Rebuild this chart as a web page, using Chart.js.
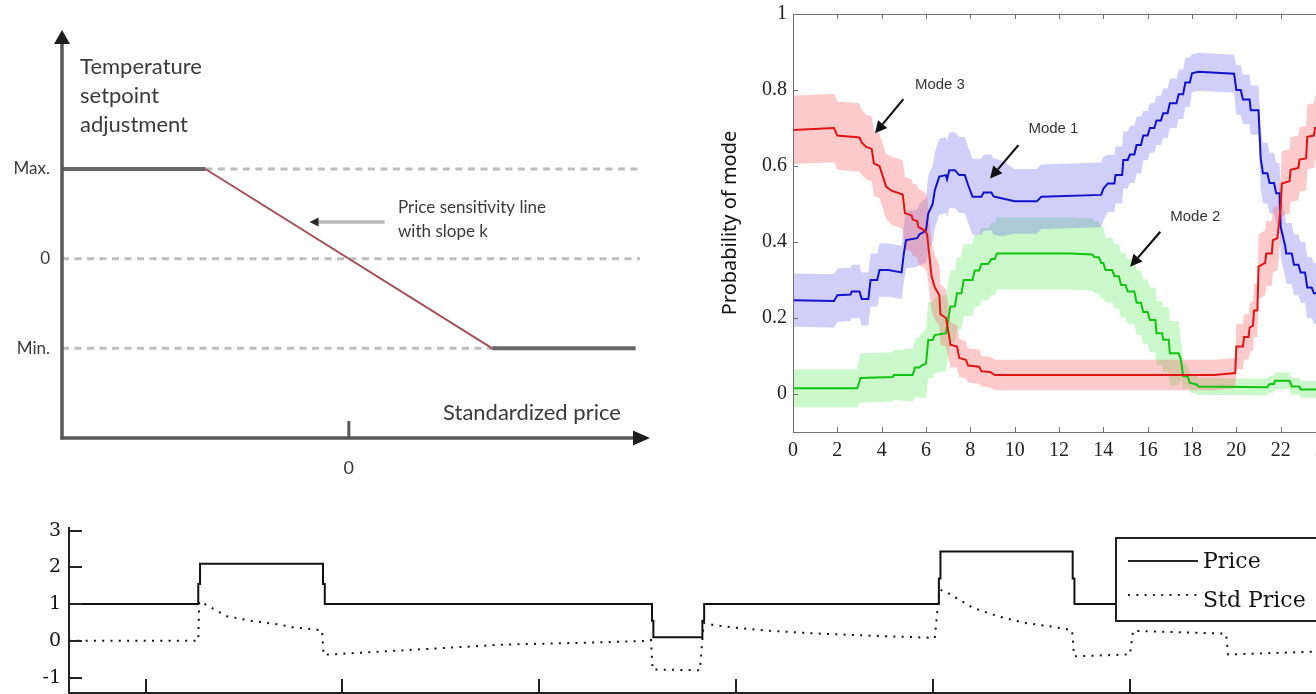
<!DOCTYPE html>
<html>
<head>
<meta charset="utf-8">
<script src="https://cdn.jsdelivr.net/npm/chart.js@4.4.1/dist/chart.umd.min.js"></script>
<style>
  html, body { margin: 0; padding: 0; background: #fff; overflow: hidden; }
  #page { position: relative; width: 1316px; height: 694px; overflow: hidden; background: #fff; }
  canvas { position: absolute; }
  #policy { left: 0; top: 0; }
  #modes { left: 700px; top: 0; }
  #prices { left: 0; top: 510px; }
</style>
</head>
<body>
<div id="page">
  <canvas id="policy" width="660" height="490"></canvas>
  <canvas id="modes" width="628" height="470"></canvas>
  <canvas id="prices" width="1405" height="224"></canvas>
</div>
<script>
// Top left: setpoint adjustment vs standardized price
const policyPrice = [-2, -1, 1, 2];
const policyAdjust = [1, 1, -1, -1];
const guideLevels = [1, 0, -1];
const guideFrom = [-1, -2, -2];
const guideTo = [2.03, 2.03, 1];
const policyTicks = [-1, 0, 1];
const policyTickText = ['Min.', '0', 'Max.'];

// Top right: probability of each mode over the day (hours), with spread
const hours3 = [0, 1.85, 2.0, 3.0, 3.1, 3.3, 3.55, 3.65, 3.9, 4.2, 4.45, 4.95, 5.05, 5.35, 5.4, 5.6, 5.65, 5.95, 6.05, 6.25, 6.4, 6.6, 6.65, 6.9, 7.05, 7.1, 7.4, 7.5, 7.8, 7.9, 8.4, 8.5, 8.9, 9.1, 14.0, 19.0, 19.95, 20.0, 20.3, 20.35, 20.55, 20.6, 20.75, 20.8, 20.95, 21.0, 21.3, 21.35, 21.6, 21.65, 21.85, 22.0, 22.05, 22.4, 22.45, 22.8, 22.85, 23.15, 23.2, 23.5, 23.55, 24];
const prob3 = [0.695, 0.70, 0.68, 0.675, 0.662, 0.65, 0.645, 0.607, 0.60, 0.546, 0.535, 0.525, 0.476, 0.47, 0.459, 0.455, 0.44, 0.43, 0.42, 0.31, 0.28, 0.26, 0.21, 0.2, 0.15, 0.13, 0.125, 0.095, 0.09, 0.075, 0.072, 0.06, 0.058, 0.05, 0.05, 0.05, 0.055, 0.125, 0.125, 0.15, 0.15, 0.175, 0.18, 0.22, 0.22, 0.335, 0.345, 0.37, 0.37, 0.405, 0.41, 0.49, 0.554, 0.56, 0.59, 0.595, 0.617, 0.62, 0.677, 0.68, 0.70, 0.70];
const spread3 = [0.09, 0.09, 0.09, 0.09,
  0.085, 0.085, 0.085, 0.085, 0.085, 0.085, 0.09, 0.09, 0.095, 0.095, 0.095, 0.095, 0.1, 0.1,
  0.1, 0.09, 0.085, 0.08, 0.08, 0.075,
  0.065, 0.06, 0.055, 0.05, 0.05, 0.045, 0.045, 0.04, 0.04,
  0.04, 0.04, 0.04, 0.04,
  0.06, 0.06, 0.06, 0.06, 0.065, 0.065, 0.07, 0.07,
  0.085, 0.085, 0.085, 0.085, 0.085, 0.085, 0.085, 0.085, 0.085, 0.085, 0.085, 0.085, 0.085, 0.085, 0.085, 0.085, 0.085];

const hours1 = [0, 1.85, 2.0, 2.6, 2.65, 3.0, 3.1, 3.4, 3.5, 3.8, 3.9, 4.3, 4.9, 5.0, 5.1, 5.6, 5.7, 6.0, 6.1, 6.3, 6.4, 6.6, 6.9, 6.95, 7.05, 7.3, 7.5, 7.75, 7.9, 8.1, 8.5, 8.6, 8.95, 9.05, 9.4, 10, 11, 11.2, 13.9, 14.0, 14.2, 14.5, 14.55, 14.85, 14.9, 15.1, 15.2, 15.4, 15.5, 15.7, 15.8, 16.0, 16.1, 16.3, 16.4, 16.6, 16.7, 16.9, 17.0, 17.3, 17.4, 17.6, 17.7, 17.9, 18.0, 18.3, 19.3, 19.9, 20.0, 20.2, 20.3, 20.6, 20.65, 21.0, 21.1, 21.2, 21.4, 21.5, 21.7, 21.8, 21.95, 22.0, 22.2, 22.25, 22.5, 22.6, 22.8, 22.9, 23.1, 23.2, 23.4, 23.5, 23.7, 23.75, 24];
const prob1 = [0.247, 0.245, 0.26, 0.262, 0.27, 0.27, 0.25, 0.25, 0.30, 0.30, 0.326, 0.326, 0.32, 0.37, 0.405, 0.41, 0.42, 0.43, 0.475, 0.50, 0.537, 0.572, 0.576, 0.565, 0.589, 0.589, 0.576, 0.576, 0.55, 0.519, 0.519, 0.53, 0.53, 0.52, 0.515, 0.507, 0.507, 0.519, 0.524, 0.54, 0.554, 0.554, 0.576, 0.576, 0.616, 0.616, 0.63, 0.63, 0.655, 0.655, 0.68, 0.68, 0.70, 0.70, 0.72, 0.72, 0.739, 0.739, 0.765, 0.765, 0.789, 0.789, 0.82, 0.82, 0.844, 0.848, 0.845, 0.843, 0.80, 0.80, 0.775, 0.775, 0.747, 0.747, 0.62, 0.581, 0.581, 0.555, 0.555, 0.528, 0.528, 0.44, 0.39, 0.37, 0.37, 0.34, 0.34, 0.32, 0.32, 0.28, 0.28, 0.265, 0.265, 0.247, 0.247];
const spread1 = [0.07, 0.07, 0.07, 0.07, 0.07, 0.07, 0.07, 0.07, 0.07, 0.07, 0.07, 0.07, 0.07,
  0.075, 0.075, 0.075, 0.08, 0.085,
  0.1, 0.1, 0.1, 0.1, 0.1, 0.1, 0.1, 0.1, 0.1, 0.1, 0.1, 0.1, 0.1, 0.1, 0.1, 0.1, 0.1,
  0.085, 0.085, 0.085, 0.085, 0.085,
  0.075, 0.075, 0.075, 0.075, 0.075, 0.075, 0.075, 0.075, 0.075, 0.075,
  0.065, 0.065, 0.065, 0.065, 0.065, 0.065, 0.065, 0.065, 0.065, 0.065, 0.065, 0.065, 0.065, 0.065,
  0.05, 0.05, 0.05, 0.05,
  0.065, 0.065, 0.065, 0.065, 0.065, 0.065,
  0.08, 0.08, 0.08, 0.08, 0.08, 0.08, 0.08, 0.08, 0.08, 0.08, 0.08, 0.08, 0.08, 0.08, 0.08, 0.08, 0.08, 0.08, 0.08, 0.08, 0.08];

const hours2 = [0, 2.9, 3.05, 4.5, 4.55, 5.4, 5.5, 5.7, 5.8, 6.0, 6.1, 6.3, 6.4, 6.9, 7.1, 7.3, 7.4, 7.6, 7.7, 8.1, 8.2, 8.4, 8.5, 8.8, 8.95, 9.1, 9.2, 12.5, 13.5, 13.6, 13.8, 13.9, 14.0, 14.1, 14.4, 14.5, 14.7, 14.8, 15.0, 15.1, 15.4, 15.5, 15.7, 15.8, 16.0, 16.1, 16.35, 16.4, 16.65, 16.7, 16.95, 17.0, 17.4, 17.5, 17.6, 17.8, 17.9, 18.2, 18.3, 21.4, 21.5, 21.7, 21.75, 22.4, 22.5, 22.85, 22.9, 24];
const prob2 = [0.015, 0.015, 0.042, 0.045, 0.05, 0.05, 0.07, 0.07, 0.075, 0.08, 0.142, 0.142, 0.155, 0.16, 0.23, 0.23, 0.265, 0.265, 0.30, 0.30, 0.325, 0.325, 0.342, 0.342, 0.355, 0.355, 0.37, 0.37, 0.367, 0.36, 0.36, 0.345, 0.345, 0.326, 0.326, 0.31, 0.31, 0.287, 0.287, 0.27, 0.27, 0.24, 0.24, 0.216, 0.216, 0.195, 0.195, 0.16, 0.16, 0.143, 0.143, 0.107, 0.107, 0.09, 0.047, 0.047, 0.03, 0.025, 0.02, 0.018, 0.026, 0.026, 0.035, 0.035, 0.02, 0.02, 0.012, 0.012];
const spread2 = [0.05, 0.05,
  0.065, 0.065, 0.065, 0.07, 0.075, 0.08, 0.085, 0.09,
  0.1, 0.1, 0.1, 0.1,
  0.095, 0.095, 0.095, 0.095, 0.095, 0.095, 0.095, 0.095, 0.095, 0.095, 0.095, 0.095, 0.095, 0.095, 0.095, 0.095, 0.095, 0.095, 0.095,
  0.085, 0.085, 0.085, 0.085, 0.085, 0.085, 0.085, 0.085, 0.085, 0.085, 0.085, 0.085, 0.085, 0.085, 0.085, 0.085, 0.085, 0.085, 0.085, 0.085,
  0.05, 0.035, 0.03, 0.025, 0.025,
  0.022, 0.022, 0.022, 0.022, 0.022, 0.022, 0.022, 0.022, 0.022, 0.022];
const probTicks = [0, 0.2, 0.4, 0.6, 0.8, 1];

// Bottom: price and standardized price
const priceT = [6.1, 12.67, 12.67, 12.76, 12.76, 19.01, 19.01, 19.1, 19.1, 35.73, 35.73, 35.8, 35.8, 38.29, 38.29, 38.38, 38.38, 50.31, 50.31, 50.39, 50.39, 57.11, 57.11, 57.2, 57.2, 74];
const priceV = [1, 1, 1.55, 1.55, 2.1, 2.1, 1.55, 1.55, 1, 1, 0.55, 0.55, 0.1, 0.1, 0.55, 0.55, 1, 1, 1.7, 1.7, 2.43, 2.43, 1.7, 1.7, 1, 1];
const stdT = [6.1, 12.67, 12.72, 12.86, 14.13, 15.43, 16.71, 17.57, 18.64, 18.96, 19.04, 23.99, 28.26, 32.53, 35.53, 35.68, 35.76, 38.16, 38.36, 38.85, 39.9, 41.6, 44.1, 46.4, 48.58, 50.1, 50.34, 50.74, 52.04, 53.32, 54.63, 55.91, 56.88, 57.08, 57.18, 60.02, 60.18, 64.75, 64.91, 65.01, 69.17, 74];
const stdV = [0, 0, 1.07, 1.04, 0.67, 0.54, 0.45, 0.36, 0.31, 0.28, -0.38, -0.23, -0.1, -0.05, 0, 0.02, -0.78, -0.8, 0.49, 0.43, 0.36, 0.28, 0.2, 0.15, 0.11, 0.08, 1.4, 1.31, 0.9, 0.67, 0.49, 0.4, 0.31, 0.29, -0.42, -0.37, 0.27, 0.2, 0.18, -0.37, -0.3, -0.26];
const priceTicks = [-1, 0, 1, 2, 3];
const timeTicks = [10, 20, 30, 40, 50, 60, 70];

const pts = (xs, ys) => xs.map((x, i) => ({ x, y: ys[i] }));

// fixed axis box sizes so the plot areas land where they do in the figure
function fixSize(w, h) {
  return s => {
    if (w !== null) s.width = w;
    if (h !== null) s.height = h;
    s.paddingLeft = s.paddingRight = s.paddingTop = s.paddingBottom = 0;
  };
}

function drawArrow(ctx, x0, y0, x1, y1, o) {
  const a = Math.atan2(y1 - y0, x1 - x0);
  const bx = x1 - o.head * Math.cos(a), by = y1 - o.head * Math.sin(a);
  ctx.strokeStyle = o.line; ctx.lineWidth = o.width;
  ctx.beginPath(); ctx.moveTo(x0, y0); ctx.lineTo(bx, by); ctx.stroke();
  ctx.fillStyle = o.tip;
  ctx.beginPath();
  ctx.moveTo(x1, y1);
  ctx.lineTo(bx + o.half * Math.sin(a), by - o.half * Math.cos(a));
  ctx.lineTo(bx - o.half * Math.sin(a), by + o.half * Math.cos(a));
  ctx.closePath(); ctx.fill();
}

// ---------- chart 1 ----------
const policyDecor = {
  id: 'policyDecor',
  afterDraw(chart) {
    const { ctx, chartArea: a, scales: { x, y } } = chart;
    ctx.save();
    const axis = { head: 14, half: 8, width: 3.5, line: '#585858', tip: '#1e1e1e' };
    drawArrow(ctx, a.left, a.bottom + 1.5, a.left, a.top, axis);
    drawArrow(ctx, a.left - 1.5, a.bottom, a.right, a.bottom, { ...axis, head: 17, half: 7.5 });
    const zx = x.getPixelForValue(0);
    ctx.strokeStyle = '#585858'; ctx.lineWidth = 3;
    ctx.beginPath(); ctx.moveTo(zx, a.bottom); ctx.lineTo(zx, a.bottom - 17); ctx.stroke();
    const ay = y.getPixelForValue(0.41);
    drawArrow(ctx, x.getPixelForValue(0.25), ay, x.getPixelForValue(-0.274), ay,
      { head: 9, half: 4.5, width: 3.5, line: '#b8b8b8', tip: '#2a2a2a' });

    ctx.fillStyle = '#3a3a3a'; ctx.textAlign = 'left'; ctx.textBaseline = 'middle';
    ctx.font = '22px Lato';
    ctx.fillText('Temperature', x.getPixelForValue(-1.874), y.getPixelForValue(2.14));
    ctx.fillText('setpoint', x.getPixelForValue(-1.874), y.getPixelForValue(1.813));
    ctx.fillText('adjustment', x.getPixelForValue(-1.874), y.getPixelForValue(1.49));
    ctx.fillText('Standardized price', x.getPixelForValue(0.657), y.getPixelForValue(-1.72));
    ctx.font = '17px Lato';
    ctx.fillText('Price sensitivity line', x.getPixelForValue(0.343), y.getPixelForValue(0.565));
    ctx.fillText('with slope k', x.getPixelForValue(0.343), y.getPixelForValue(0.298));
    ctx.restore();
  }
};

new Chart(document.getElementById('policy'), {
  type: 'line',
  data: {
    datasets: [
      {
        data: pts(policyPrice, policyAdjust),
        borderColor: '#666666', borderWidth: 4, order: 0,
        segment: {
          borderColor: c => c.p0DataIndex === 1 ? '#a4505b' : undefined,
          borderWidth: c => c.p0DataIndex === 1 ? 2 : undefined
        }
      },
      ...guideLevels.map((lv, i) => ({
        data: [{ x: guideFrom[i], y: lv }, { x: guideTo[i], y: lv }],
        borderColor: '#bdbdbd', borderWidth: 3, borderDash: [7, 5.5], order: 1
      }))
    ]
  },
  options: {
    responsive: false, animation: false,
    layout: { padding: { top: 30, right: 10, left: 0, bottom: 0 } },
    elements: { point: { radius: 0 }, line: { tension: 0 } },
    plugins: { legend: { display: false }, tooltip: { enabled: false } },
    scales: {
      x: {
        type: 'linear', min: -2, max: 2.1,
        border: { display: false }, grid: { display: false, drawTicks: false },
        afterBuildTicks: s => { s.ticks = [{ value: 0 }]; },
        afterFit: fixSize(null, 52),
        ticks: { padding: 19, color: '#3a3a3a', font: { family: 'Lato', size: 18 } }
      },
      y: {
        type: 'linear', min: -2, max: 2.55,
        border: { display: false }, grid: { display: false, drawTicks: false },
        afterBuildTicks: s => { s.ticks = policyTicks.map(v => ({ value: v })); },
        afterFit: fixSize(62, null),
        ticks: {
          padding: 12, color: '#3a3a3a', font: { family: 'Lato', size: 17 },
          callback: (v, i) => policyTickText[i]
        }
      }
    }
  },
  plugins: [policyDecor]
});

// ---------- chart 2 ----------
const modeSeries = [
  { hours: hours3, prob: prob3, spread: spread3 },
  { hours: hours1, prob: prob1, spread: spread1 },
  { hours: hours2, prob: prob2, spread: spread2 }
];
const modeLine = ['#e01515', '#1212cc', '#12c412'];
const modeBand = ['rgba(245,100,100,0.34)', 'rgba(110,110,240,0.33)', 'rgba(100,235,100,0.34)'];

const modeDatasets = [];
modeSeries.forEach((m, k) => {
  modeDatasets.push({
    data: m.hours.map((h, i) => ({ x: h, y: m.prob[i] + m.spread[i] })),
    borderWidth: 0, borderColor: 'transparent', backgroundColor: modeBand[k], fill: '+1', order: 2
  });
  modeDatasets.push({
    data: m.hours.map((h, i) => ({ x: h, y: m.prob[i] - m.spread[i] })),
    borderWidth: 0, borderColor: 'transparent', fill: false, order: 2
  });
});
modeSeries.forEach((m, k) => {
  modeDatasets.push({ data: pts(m.hours, m.prob), borderColor: modeLine[k], borderWidth: 2, fill: false, order: 0 });
});

const modeNotes = [
  { text: 'Mode 3', at: [5.5, 0.813], from: [4.98, 0.776], to: [3.70, 0.686] },
  { text: 'Mode 1', at: [10.62, 0.699], from: [10.17, 0.655], to: [8.89, 0.567] },
  { text: 'Mode 2', at: [17.02, 0.467], from: [16.57, 0.427], to: [15.21, 0.335] }
];

const modeDecor = {
  id: 'modeDecor',
  afterDraw(chart) {
    const { ctx, chartArea: a, scales: { x, y } } = chart;
    ctx.save();
    ctx.strokeStyle = '#707070'; ctx.lineWidth = 1;
    ctx.strokeRect(a.left + 0.5, a.top + 0.5, a.right - a.left, a.bottom - a.top);
    ctx.beginPath();
    x.ticks.forEach(t => {
      const px = Math.round(x.getPixelForValue(t.value)) + 0.5;
      ctx.moveTo(px, a.bottom); ctx.lineTo(px, a.bottom - 5);
      ctx.moveTo(px, a.top); ctx.lineTo(px, a.top + 5);
    });
    y.ticks.forEach(t => {
      const py = Math.round(y.getPixelForValue(t.value)) + 0.5;
      ctx.moveTo(a.left, py); ctx.lineTo(a.left + 5, py);
      ctx.moveTo(a.right, py); ctx.lineTo(a.right - 5, py);
    });
    ctx.stroke();
    modeNotes.forEach(n => {
      drawArrow(ctx, x.getPixelForValue(n.from[0]), y.getPixelForValue(n.from[1]),
        x.getPixelForValue(n.to[0]), y.getPixelForValue(n.to[1]),
        { head: 12, half: 6, width: 2.2, line: '#111', tip: '#111' });
      ctx.fillStyle = '#333'; ctx.font = '15px "Liberation Sans"';
      ctx.textAlign = 'left'; ctx.textBaseline = 'middle';
      ctx.fillText(n.text, x.getPixelForValue(n.at[0]), y.getPixelForValue(n.at[1]));
    });
    ctx.restore();
  }
};

new Chart(document.getElementById('modes'), {
  type: 'line',
  data: { datasets: modeDatasets },
  options: {
    responsive: false, animation: false,
    layout: { padding: { top: 14, right: 3, left: 0, bottom: 0 } },
    elements: { point: { radius: 0 }, line: { tension: 0 } },
    plugins: { legend: { display: false }, tooltip: { enabled: false } },
    scales: {
      x: {
        type: 'linear', min: 0, max: 24,
        border: { display: false }, grid: { display: false, drawTicks: false },
        afterFit: fixSize(null, 38),
        ticks: {
          stepSize: 2, autoSkip: false, maxRotation: 0, padding: 7,
          color: '#222', font: { family: '"Liberation Serif"', size: 20 }
        }
      },
      y: {
        type: 'linear', min: -0.1, max: 1,
        border: { display: false }, grid: { display: false, drawTicks: false },
        afterBuildTicks: s => { s.ticks = probTicks.map(v => ({ value: v })); },
        afterFit: fixSize(93, null),
        title: {
          display: true, text: 'Probability of mode', color: '#111',
          font: { family: '"Noto Sans"', size: 20 }, padding: { top: 18, bottom: 0 }
        },
        ticks: {
          padding: 6, color: '#222', font: { family: '"Liberation Serif"', size: 20 },
          callback: v => String(+v.toFixed(1))
        }
      }
    }
  },
  plugins: [modeDecor]
});

// ---------- chart 3 ----------
const priceDecor = {
  id: 'priceDecor',
  afterDraw(chart) {
    const { ctx, chartArea: a, scales: { x, y } } = chart;
    ctx.save();
    ctx.strokeStyle = '#222'; ctx.lineWidth = 2;
    ctx.beginPath();
    ctx.moveTo(a.left, a.top); ctx.lineTo(a.left, a.bottom);
    ctx.lineTo(a.right, a.bottom);
    y.ticks.forEach(t => {
      const py = Math.round(y.getPixelForValue(t.value));
      ctx.moveTo(a.left, py); ctx.lineTo(a.left + 13, py);
    });
    x.ticks.forEach(t => {
      const px = Math.round(x.getPixelForValue(t.value));
      ctx.moveTo(px, a.bottom); ctx.lineTo(px, a.bottom - 14);
    });
    ctx.stroke();

    // legend box
    ctx.fillStyle = '#fff';
    ctx.fillRect(1116, 28, 320, 83);
    ctx.strokeStyle = '#222'; ctx.lineWidth = 2;
    ctx.strokeRect(1116, 28, 320, 83);
    ctx.lineWidth = 2;
    ctx.beginPath(); ctx.moveTo(1128, 51); ctx.lineTo(1198, 51); ctx.stroke();
    ctx.setLineDash([2, 6.3]);
    ctx.beginPath(); ctx.moveTo(1128, 85); ctx.lineTo(1201, 85); ctx.stroke();
    ctx.setLineDash([]);
    ctx.fillStyle = '#111'; ctx.font = '22px "DejaVu Serif"';
    ctx.textAlign = 'left'; ctx.textBaseline = 'middle';
    ctx.fillText('Price', 1203, 52);
    ctx.fillText('Std Price', 1203, 91);
    ctx.restore();
  }
};

new Chart(document.getElementById('prices'), {
  type: 'line',
  data: {
    datasets: [
      { label: 'Price', data: pts(priceT, priceV), borderColor: '#111', borderWidth: 2 },
      { label: 'Std Price', data: pts(stdT, stdV), borderColor: '#111', borderWidth: 2, borderDash: [2, 6.3] }
    ]
  },
  options: {
    responsive: false, animation: false,
    layout: { padding: { top: 17, right: 0, left: 0, bottom: 0 } },
    elements: { point: { radius: 0 }, line: { tension: 0 } },
    plugins: { legend: { display: false }, tooltip: { enabled: false } },
    scales: {
      x: {
        type: 'linear', min: 6.1, max: 74,
        border: { display: false }, grid: { display: false, drawTicks: false },
        afterBuildTicks: s => { s.ticks = timeTicks.map(v => ({ value: v })); },
        afterFit: fixSize(null, 41),
        ticks: { display: false }
      },
      y: {
        type: 'linear', min: -1.42, max: 3.1,
        border: { display: false }, grid: { display: false, drawTicks: false },
        afterBuildTicks: s => { s.ticks = priceTicks.map(v => ({ value: v })); },
        afterFit: fixSize(69, null),
        ticks: { padding: 8, color: '#111', font: { family: '"DejaVu Serif"', size: 19 } }
      }
    }
  },
  plugins: [priceDecor]
});
</script>
</body>
</html>
